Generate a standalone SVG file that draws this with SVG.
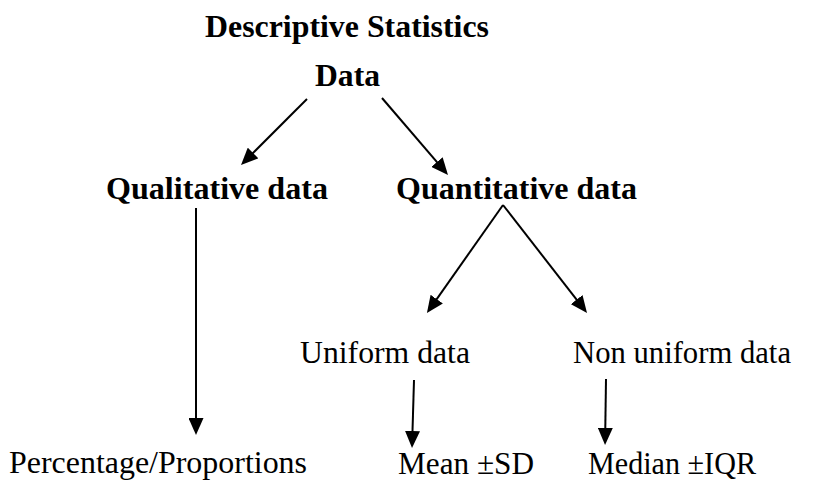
<svg xmlns="http://www.w3.org/2000/svg" width="818" height="481" viewBox="0 0 818 481">
  <style>
    text { font-family: "Liberation Serif", "Times New Roman", serif; fill: #000; font-size: 32px; }
    .b { font-weight: bold; }
    .c { stroke: #000; stroke-width: 2; fill: none; marker-end: url(#ah); }
  </style>
  <defs>
    <marker id="ah" viewBox="0 0 17 15" refX="7" refY="7.5" markerWidth="17" markerHeight="15" markerUnits="userSpaceOnUse" orient="auto">
      <path d="M0,0 L17,7.5 L0,15 Z" fill="#000"/>
    </marker>
  </defs>
  <rect width="818" height="481" fill="#fff"/>
  <g id="title"><text class="b" x="205" y="37" textLength="284" lengthAdjust="spacingAndGlyphs">Descriptive Statistics</text></g>
  <g id="data"><text class="b" x="315" y="86" textLength="65" lengthAdjust="spacingAndGlyphs">Data</text></g>
  <g id="qualitative"><text class="b" x="106" y="199" textLength="222" lengthAdjust="spacingAndGlyphs">Qualitative data</text></g>
  <g id="quantitative"><text class="b" x="396" y="199" textLength="241" lengthAdjust="spacingAndGlyphs">Quantitative data</text></g>
  <g id="uniform"><text x="300" y="363" textLength="170" lengthAdjust="spacingAndGlyphs">Uniform data</text></g>
  <g id="nonuniform"><text x="573" y="363" textLength="218" lengthAdjust="spacingAndGlyphs">Non uniform data</text></g>
  <g id="percentage"><text x="9" y="473" textLength="298" lengthAdjust="spacingAndGlyphs">Percentage/Proportions</text></g>
  <g id="mean"><text x="398" y="474" textLength="136" lengthAdjust="spacingAndGlyphs">Mean ±SD</text></g>
  <g id="median"><text x="588" y="474" textLength="168" lengthAdjust="spacingAndGlyphs">Median ±IQR</text></g>
  <g id="connectors">
    <line class="c" x1="307" y1="99" x2="248.1" y2="157.9"/>
    <line class="c" x1="382" y1="98" x2="441.5" y2="167.4"/>
    <line class="c" x1="503" y1="205" x2="432.7" y2="304.8"/>
    <line class="c" x1="503" y1="205" x2="580.9" y2="305.1"/>
    <line class="c" x1="196" y1="208" x2="196" y2="425"/>
    <line class="c" x1="414" y1="380" x2="412.3" y2="438"/>
    <line class="c" x1="606" y1="379" x2="605.2" y2="435"/>
  </g>
</svg>
